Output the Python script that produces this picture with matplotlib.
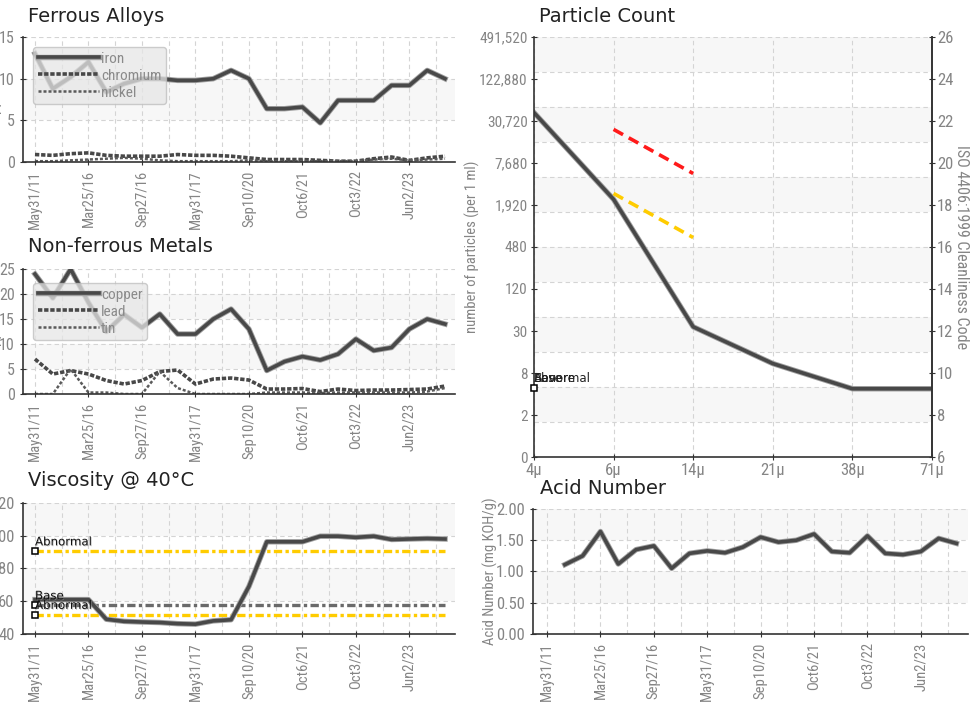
import os
import numpy as np
import matplotlib.pyplot as plt
from matplotlib import patheffects as pe
from matplotlib import font_manager as fm

# --- data ---
dates = ['May31/11', 'Mar25/16', 'Sep27/16', 'May31/17', 'Sep10/20', 'Oct6/21', 'Oct3/22', 'Jun2/23']
date_pos = [0, 3, 6, 9, 12, 15, 18, 21]

iron = [13.0, 8.8, 10.2, 12.0, 8.4, 9.4, 10.0, 10.0, 9.8, 9.8, 10.0, 11.0,
        10.0, 6.4, 6.4, 6.6, 4.7, 7.4, 7.4, 7.4, 9.2, 9.2, 11.0, 10.0]
chromium = [0.9, 0.8, 1.0, 1.1, 0.8, 0.7, 0.7, 0.7, 0.9, 0.8, 0.8, 0.7,
            0.5, 0.3, 0.3, 0.3, 0.2, 0.1, 0.1, 0.4, 0.6, 0.2, 0.5, 0.7]
nickel = [0.1, 0.1, 0.2, 0.3, 0.4, 0.5, 0.4, 0.2, 0.1, 0.1, 0.1, 0.1,
          0.2, 0.1, 0.1, 0.1, 0.1, 0.1, 0.1, 0.3, 0.4, 0.2, 0.3, 0.4]

copper = [24.0, 19.2, 25.0, 18.3, 12.5, 15.9, 13.3, 16.0, 12.0, 12.0, 15.0, 17.0,
          13.0, 4.7, 6.5, 7.5, 6.8, 8.0, 11.0, 8.7, 9.3, 13.0, 15.0, 14.0]
lead = [7.0, 4.0, 4.7, 4.0, 2.7, 2.0, 2.7, 4.5, 4.8, 2.0, 3.0, 3.2,
        2.8, 1.0, 1.0, 1.1, 0.5, 1.0, 0.7, 0.8, 0.8, 0.9, 1.0, 1.6]
tin = [0.0, 0.0, 5.0, 0.3, 0.3, 0.0, 0.0, 4.5, 1.2, 0.0, 0.0, 0.0,
       0.0, 0.3, 0.3, 0.3, 0.2, 0.3, 0.3, 0.3, 0.3, 0.3, 0.5, 1.2]

viscosity = [61.0, 61.0, 61.0, 61.0, 49.0, 47.7, 47.3, 47.0, 46.3, 46.0, 48.0, 48.7,
             69.0, 96.3, 96.3, 96.3, 99.7, 99.7, 99.0, 99.7, 97.7, 98.0, 98.3, 98.0]
visc_abnormal_hi = 90.6
visc_base = 57.6
visc_abnormal_lo = 51.8

acid = [1.11, 1.25, 1.64, 1.12, 1.35, 1.41, 1.05, 1.29, 1.33, 1.30, 1.39,
        1.55, 1.47, 1.50, 1.60, 1.32, 1.30, 1.57, 1.29, 1.27, 1.32, 1.53, 1.45]
acid_start = 1

sizes = ['4\u03bc', '6\u03bc', '14\u03bc', '21\u03bc', '38\u03bc', '71\u03bc']
iso_code = [22.4, 18.27, 12.2, 10.45, 9.25, 9.25]
severe_limit = [21.6, 19.5]
abnormal_limit = [18.55, 16.45]
limit_sizes = [1, 2]
pc_marker = 9.3
iso_ticks = [6, 8, 10, 12, 14, 16, 18, 20, 22, 24, 26]
count_labels = ['0', '2', '8', '30', '120', '480', '1,920', '7,680', '30,720', '122,880', '491,520']

LINE = '#484848'
GRID = '#d4d4d4'
BAND = '#f7f7f7'
TICK = '#858585'
YEL = '#ffcc00'

# look for a condensed / narrow font for the tick labels
cond_path = None
bad = ('bold', 'italic', 'oblique', 'light', 'thin', 'medium', 'black', 'semi', 'extra', 'ultra', 'heavy')
prefer = ['robotocondensed', 'liberationsansnarrow', 'dejavusanscondensed', 'notosans', 'opensans', 'lato', 'inter']
found = []
for f in fm.fontManager.ttflist:
    base = os.path.basename(f.fname).lower()
    if ('condensed' in base or 'narrow' in base) and not any(b in base.replace('condensed', '').replace('narrow', '') for b in bad):
        found.append(f.fname)
for p in prefer:
    hits = [f for f in found if p in os.path.basename(f).lower().replace('-', '').replace('_', '')]
    if hits:
        cond_path = sorted(hits, key=len)[0]
        break
if cond_path is None and found:
    cond_path = found[0]


def cfont(size):
    if cond_path:
        return fm.FontProperties(fname=cond_path, size=size)
    return fm.FontProperties(family='DejaVu Sans', size=size * 0.82)


fig = plt.figure(figsize=(9.76, 7.02), dpi=100)


def halo(lw):
    return [pe.Stroke(linewidth=lw + 1.3, foreground='#a0a0a0'), pe.Normal()]


def style_ticks(ax, xsize=10.5, ysize=11.5):
    for t in ax.get_xticklabels():
        t.set_fontproperties(cfont(xsize))
    for t in ax.get_yticklabels():
        t.set_fontproperties(cfont(ysize))


def time_axes(rect, xlim=(-0.67, 23.56)):
    ax = fig.add_axes(rect)
    ax.set_xlim(*xlim)
    for s in ['top', 'right']:
        ax.spines[s].set_visible(False)
    for s in ['left', 'bottom']:
        ax.spines[s].set_color('#333333')
        ax.spines[s].set_linewidth(1.2)
    ax.set_xticks(date_pos)
    ax.set_xticklabels(dates, rotation=90)
    ax.tick_params(direction='inout', length=5, colors='#333333', labelcolor=TICK)
    for x in np.arange(0, 24, 1.5):
        ax.axvline(x, color=GRID, lw=0.8, ls=(0, (4, 3)), zorder=0)
    return ax


def bands(ax, lo, hi, step):
    edges = np.arange(lo, hi + step / 2, step)
    ax.set_ylim(lo, hi)
    ax.set_yticks(edges)
    for i in range(len(edges) - 1):
        if i % 2 == 1:
            ax.axhspan(edges[i], edges[i + 1], color=BAND, zorder=-1, lw=0)
        ax.axhline(edges[i + 1], color=GRID, lw=0.8, ls=(0, (4, 3)), zorder=0)


def leg(ax, top):
    lg = ax.legend(loc='upper left', bbox_to_anchor=(10 / 432, top), prop=cfont(11),
                   handlelength=4.0, handletextpad=0.15, labelspacing=0.2,
                   borderpad=0.3, borderaxespad=0, fancybox=True, framealpha=0.75,
                   facecolor='#e6e6e6', edgecolor='#bdbdbd')
    for t in lg.get_texts():
        t.set_color('#8a8a8a')
    return lg


def title(x, y, s):
    fig.text(x / 976, 1 - y / 702, s, fontsize=14, family='DejaVu Sans', color='#222222', va='center')


x24 = np.arange(24)

# --- Ferrous Alloys ---
ax1 = time_axes([0.0236, 0.7692, 0.4426, 0.178])
bands(ax1, 0, 15, 5)
ax1.plot(x24, iron, color=LINE, lw=2.6, label='iron', path_effects=halo(2.6), solid_joinstyle='round')
ax1.plot(x24, chromium, color=LINE, lw=2.6, ls=(0, (1.2, 0.5)), label='chromium')
ax1.plot(x24, nickel, color='#5a5a5a', lw=1.8, ls=(0, (1.2, 0.8)), label='nickel')
ax1.set_ylabel('ppm', color=TICK, fontproperties=cfont(11))
ax1.yaxis.set_label_coords(-0.05, 0.5)
leg(ax1, (162 - 47) / 125)
style_ticks(ax1)
title(28, 16, 'Ferrous Alloys')

# --- Non-ferrous Metals ---
ax2 = time_axes([0.0236, 0.4387, 0.4426, 0.178])
bands(ax2, 0, 25, 5)
ax2.plot(x24, copper, color=LINE, lw=2.6, label='copper', path_effects=halo(2.6), solid_joinstyle='round')
ax2.plot(x24, lead, color=LINE, lw=2.6, ls=(0, (1.2, 0.5)), label='lead')
ax2.plot(x24, tin, color='#5a5a5a', lw=1.8, ls=(0, (1.2, 0.8)), label='tin')
ax2.set_ylabel('ppm', color=TICK, fontproperties=cfont(11))
ax2.yaxis.set_label_coords(-0.05, 0.5)
leg(ax2, (394 - 283) / 125)
style_ticks(ax2)
title(28, 247, 'Non-ferrous Metals')

# --- Viscosity ---
ax3 = time_axes([0.0236, 0.0969, 0.4426, 0.1866])
bands(ax3, 40, 120, 20)
ax3.plot(x24, [visc_abnormal_hi] * 24, color=YEL, lw=2.4, ls=(0, (2.5, 1, 1, 1)))
ax3.plot(x24, [visc_base] * 24, color='#6a6a6a', lw=2.4, ls=(0, (2.5, 1, 1, 1)))
ax3.plot(x24, [visc_abnormal_lo] * 24, color=YEL, lw=2.4, ls=(0, (2.5, 1, 1, 1)))
ax3.plot(x24, viscosity, color=LINE, lw=2.6, path_effects=halo(2.6), solid_joinstyle='round')
for val, lab in [(visc_abnormal_hi, 'Abnormal'), (visc_base, 'Base'), (visc_abnormal_lo, 'Abnormal')]:
    ax3.plot([0], [val], marker='s', ms=5, mfc='white', mec='black', mew=1.1, zorder=5)
    ax3.annotate(lab, (0, val), xytext=(0, 2), textcoords='offset points', fontsize=8.5,
                 family='DejaVu Sans', color='#111111', va='bottom', ha='left', zorder=6,
                 path_effects=[pe.withSimplePatchShadow(offset=(0.6, -0.6), shadow_rgbFace='#999999', alpha=0.6)])
style_ticks(ax3, 10.5, 12)
title(28, 480, 'Viscosity @ 40\u00b0C')

# --- Particle Count ---
ax4 = fig.add_axes([0.5471, 0.349, 0.4078, 0.5983])
xs = np.arange(len(sizes))
ax4.set_xlim(0, len(sizes) - 1)
ax4.set_ylim(6, 26)
pc_edges = np.linspace(6, 26, 13)
for i in range(12):
    if i % 2 == 1:
        ax4.axhspan(pc_edges[i], pc_edges[i + 1], color=BAND, zorder=-1, lw=0)
    ax4.axhline(pc_edges[i + 1], color=GRID, lw=0.8, ls=(0, (4, 3)), zorder=0)
for x in xs:
    ax4.axvline(x, color=GRID, lw=0.8, ls=(0, (4, 3)), zorder=0)
ax4.set_xticks(xs)
ax4.set_xticklabels(sizes)
ax4.set_yticks(iso_ticks)
ax4.set_yticklabels(count_labels)
ax4.spines['top'].set_visible(False)
for s in ['left', 'bottom', 'right']:
    ax4.spines[s].set_color('#333333')
    ax4.spines[s].set_linewidth(1.2)
ax4.tick_params(direction='inout', length=5, colors='#333333', labelcolor=TICK, pad=2)
ax4.set_ylabel('number of particles (per 1 ml)', color=TICK, fontproperties=cfont(10.5))
ax4.yaxis.set_label_coords(-0.136, 0.5)
ax4.plot(xs, iso_code, color=LINE, lw=2.6, path_effects=halo(2.6), solid_joinstyle='round')
ax4.plot(limit_sizes, severe_limit, color='#ff1a1a', lw=2.6, ls=(0, (3, 1.8)))
ax4.plot(limit_sizes, abnormal_limit, color=YEL, lw=2.6, ls=(0, (3, 1.8)))
ax4.plot([0], [pc_marker], marker='s', ms=5, mfc='white', mec='black', mew=1.1, zorder=5, clip_on=False)
for lab in ['Severe', 'Abnormal', 'Base']:
    ax4.annotate(lab, (0, pc_marker), xytext=(0, 2), textcoords='offset points', fontsize=8.5,
                 family='DejaVu Sans', color='#222222', va='bottom', ha='left', zorder=6)
style_ticks(ax4, 12, 11)
ax4r = ax4.twinx()
ax4r.set_ylim(6, 26)
ax4r.set_yticks(iso_ticks)
for s in ['left', 'bottom', 'top']:
    ax4r.spines[s].set_visible(False)
ax4r.spines['right'].set_color('#333333')
ax4r.spines['right'].set_linewidth(1.2)
ax4r.tick_params(direction='inout', length=5, colors='#333333', labelcolor=TICK, pad=1)
ax4r.set_ylabel('ISO 4406:1999 Cleanliness Code', color=TICK, fontproperties=cfont(11.5), rotation=270, va='center')
ax4r.yaxis.set_label_coords(1.075, 0.5)
style_ticks(ax4r, 12, 12)
title(539, 16, 'Particle Count')

# --- Acid Number ---
ax5 = time_axes([0.5461, 0.0969, 0.4457, 0.178], xlim=(-0.79, 23.65))
bands(ax5, 0, 2.0, 0.5)
ax5.set_yticklabels(['%.2f' % v for v in [0, 0.5, 1.0, 1.5, 2.0]])
ax5.plot(np.arange(acid_start, acid_start + len(acid)), acid, color=LINE, lw=2.6,
         path_effects=halo(2.6), solid_joinstyle='round')
ax5.set_ylabel('Acid Number (mg KOH/g)', color=TICK, fontproperties=cfont(10.5))
ax5.yaxis.set_label_coords(-0.08, 0.5)
style_ticks(ax5, 10.5, 12)
title(540, 488, 'Acid Number')

fig.savefig('out.png', dpi=100)
